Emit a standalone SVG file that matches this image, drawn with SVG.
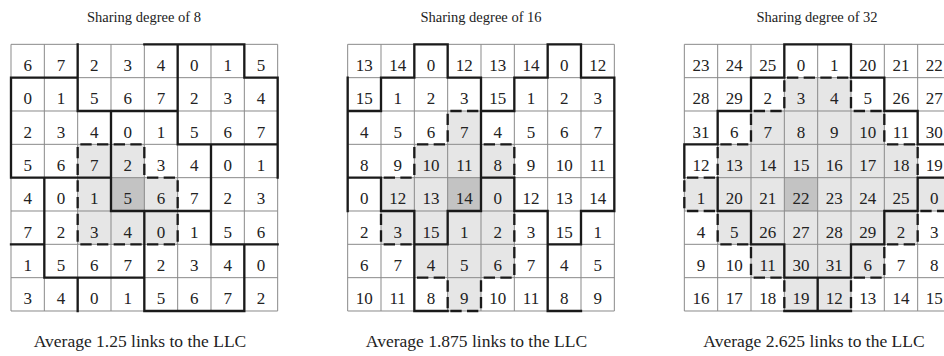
<svg xmlns="http://www.w3.org/2000/svg" xmlns:xlink="http://www.w3.org/1999/xlink" width="944" height="356" viewBox="0 0 944 356">
<style>
.thin{fill:none;stroke:#8a8a8a;stroke-width:3}
.thick{fill:none;stroke:#1a1a1a;stroke-width:7;stroke-linecap:square}
.dash{fill:none;stroke:#1a1a1a;stroke-width:7;stroke-dasharray:34 16;stroke-dashoffset:42}
.lt{fill:#e6e6e6}
.dk{fill:#c3c3c3}
text{font-family:"Liberation Serif","Times New Roman",serif;text-anchor:middle;fill:#222}
.num{font-size:17px}
.title{font-size:14.5px}
.cap{font-size:17.5px}
</style>
<defs>
<path id="gridlines" d="M0 0H800M0 100H800M0 200H800M0 300H800M0 400H800M0 500H800M0 600H800M0 700H800M0 800H800M0 0V800M100 0V800M200 0V800M300 0V800M400 0V800M500 0V800M600 0V800M700 0V800M800 0V800"/>
</defs>
<rect width="944" height="356" fill="#fff"/>
<g id="titles">
<text class="title" x="144" y="22">Sharing degree of 8</text>
<text class="title" x="481" y="22">Sharing degree of 16</text>
<text class="title" x="817" y="22">Sharing degree of 32</text>
</g>
<g id="grid1" transform="translate(11,44.33)">
<g transform="scale(0.33333)">
<rect class="lt" x="200" y="300" width="200" height="100"/>
<rect class="lt" x="200" y="400" width="300" height="200"/>
<rect class="dk" x="300" y="400" width="100" height="100"/>
<use xlink:href="#gridlines" class="thin"/>
<path class="thick" d="M400 0H700M0 100H200M700 100H800M200 200H500M500 300H800M0 400H300M300 500H600M0 600H100M600 600H800M100 700H400M400 800H700M0 100V400M100 400V700M200 0V200M200 700V800M300 200V500M400 500V800M500 0V300M600 300V600M700 0V100M700 600V800M800 100V400"/>
<path class="dash" d="M200 300H300M300 300H400M400 400H500M200 600H300M300 600H400M400 600H500M200 300V400M400 300V400M200 400V500M500 400V500M200 500V600M500 500V600"/>
</g>
<text class="num" y="26.67"><tspan x="16.67">6</tspan><tspan x="50">7</tspan><tspan x="83.33">2</tspan><tspan x="116.67">3</tspan><tspan x="150">4</tspan><tspan x="183.33">0</tspan><tspan x="216.67">1</tspan><tspan x="250">5</tspan></text>
<text class="num" y="60"><tspan x="16.67">0</tspan><tspan x="50">1</tspan><tspan x="83.33">5</tspan><tspan x="116.67">6</tspan><tspan x="150">7</tspan><tspan x="183.33">2</tspan><tspan x="216.67">3</tspan><tspan x="250">4</tspan></text>
<text class="num" y="93.33"><tspan x="16.67">2</tspan><tspan x="50">3</tspan><tspan x="83.33">4</tspan><tspan x="116.67">0</tspan><tspan x="150">1</tspan><tspan x="183.33">5</tspan><tspan x="216.67">6</tspan><tspan x="250">7</tspan></text>
<text class="num" y="126.67"><tspan x="16.67">5</tspan><tspan x="50">6</tspan><tspan x="83.33">7</tspan><tspan x="116.67">2</tspan><tspan x="150">3</tspan><tspan x="183.33">4</tspan><tspan x="216.67">0</tspan><tspan x="250">1</tspan></text>
<text class="num" y="160"><tspan x="16.67">4</tspan><tspan x="50">0</tspan><tspan x="83.33">1</tspan><tspan x="116.67">5</tspan><tspan x="150">6</tspan><tspan x="183.33">7</tspan><tspan x="216.67">2</tspan><tspan x="250">3</tspan></text>
<text class="num" y="193.33"><tspan x="16.67">7</tspan><tspan x="50">2</tspan><tspan x="83.33">3</tspan><tspan x="116.67">4</tspan><tspan x="150">0</tspan><tspan x="183.33">1</tspan><tspan x="216.67">5</tspan><tspan x="250">6</tspan></text>
<text class="num" y="226.67"><tspan x="16.67">1</tspan><tspan x="50">5</tspan><tspan x="83.33">6</tspan><tspan x="116.67">7</tspan><tspan x="150">2</tspan><tspan x="183.33">3</tspan><tspan x="216.67">4</tspan><tspan x="250">0</tspan></text>
<text class="num" y="260"><tspan x="16.67">3</tspan><tspan x="50">4</tspan><tspan x="83.33">0</tspan><tspan x="116.67">1</tspan><tspan x="150">5</tspan><tspan x="183.33">6</tspan><tspan x="216.67">7</tspan><tspan x="250">2</tspan></text>
</g>
<g id="grid2" transform="translate(347.67,44.33)">
<g transform="scale(0.33333)">
<rect class="lt" x="300" y="200" width="100" height="100"/>
<rect class="lt" x="200" y="300" width="300" height="100"/>
<rect class="lt" x="100" y="400" width="400" height="200"/>
<rect class="lt" x="200" y="600" width="300" height="100"/>
<rect class="lt" x="300" y="700" width="100" height="100"/>
<rect class="dk" x="300" y="400" width="100" height="100"/>
<use xlink:href="#gridlines" class="thin"/>
<path class="thick" d="M200 0H300M600 0H700M100 100H200M300 100H400M500 100H600M700 100H800M0 200H100M400 200H500M0 400H100M400 400H500M100 500H200M300 500H400M500 500H600M700 500H800M200 600H300M600 600H700M200 800H300M600 800H700M0 100V500M100 100V200M100 400V500M200 0V100M200 500V800M300 0V100M300 500V600M400 100V500M500 100V200M500 400V500M600 0V100M600 500V800M700 0V100M700 500V600M800 100V500"/>
<path class="dash" d="M300 200H400M200 300H300M400 300H500M100 400H200M100 600H200M200 700H300M400 700H500M300 800H400M300 200V300M200 300V400M100 500V600M300 700V800M500 300V400M500 500V600M500 600V700M400 700V800"/>
</g>
<text class="num" y="26.67"><tspan x="16.67">13</tspan><tspan x="50">14</tspan><tspan x="83.33">0</tspan><tspan x="116.67">12</tspan><tspan x="150">13</tspan><tspan x="183.33">14</tspan><tspan x="216.67">0</tspan><tspan x="250">12</tspan></text>
<text class="num" y="60"><tspan x="16.67">15</tspan><tspan x="50">1</tspan><tspan x="83.33">2</tspan><tspan x="116.67">3</tspan><tspan x="150">15</tspan><tspan x="183.33">1</tspan><tspan x="216.67">2</tspan><tspan x="250">3</tspan></text>
<text class="num" y="93.33"><tspan x="16.67">4</tspan><tspan x="50">5</tspan><tspan x="83.33">6</tspan><tspan x="116.67">7</tspan><tspan x="150">4</tspan><tspan x="183.33">5</tspan><tspan x="216.67">6</tspan><tspan x="250">7</tspan></text>
<text class="num" y="126.67"><tspan x="16.67">8</tspan><tspan x="50">9</tspan><tspan x="83.33">10</tspan><tspan x="116.67">11</tspan><tspan x="150">8</tspan><tspan x="183.33">9</tspan><tspan x="216.67">10</tspan><tspan x="250">11</tspan></text>
<text class="num" y="160"><tspan x="16.67">0</tspan><tspan x="50">12</tspan><tspan x="83.33">13</tspan><tspan x="116.67">14</tspan><tspan x="150">0</tspan><tspan x="183.33">12</tspan><tspan x="216.67">13</tspan><tspan x="250">14</tspan></text>
<text class="num" y="193.33"><tspan x="16.67">2</tspan><tspan x="50">3</tspan><tspan x="83.33">15</tspan><tspan x="116.67">1</tspan><tspan x="150">2</tspan><tspan x="183.33">3</tspan><tspan x="216.67">15</tspan><tspan x="250">1</tspan></text>
<text class="num" y="226.67"><tspan x="16.67">6</tspan><tspan x="50">7</tspan><tspan x="83.33">4</tspan><tspan x="116.67">5</tspan><tspan x="150">6</tspan><tspan x="183.33">7</tspan><tspan x="216.67">4</tspan><tspan x="250">5</tspan></text>
<text class="num" y="260"><tspan x="16.67">10</tspan><tspan x="50">11</tspan><tspan x="83.33">8</tspan><tspan x="116.67">9</tspan><tspan x="150">10</tspan><tspan x="183.33">11</tspan><tspan x="216.67">8</tspan><tspan x="250">9</tspan></text>
</g>
<g id="grid3" transform="translate(684.33,44.33)">
<g transform="scale(0.33333)">
<rect class="lt" x="300" y="100" width="200" height="100"/>
<rect class="lt" x="200" y="200" width="400" height="100"/>
<rect class="lt" x="100" y="300" width="600" height="100"/>
<rect class="lt" x="0" y="400" width="800" height="100"/>
<rect class="lt" x="100" y="500" width="600" height="100"/>
<rect class="lt" x="200" y="600" width="400" height="100"/>
<rect class="lt" x="300" y="700" width="200" height="100"/>
<rect class="dk" x="300" y="400" width="100" height="100"/>
<use xlink:href="#gridlines" class="thin"/>
<path class="thick" d="M300 0H500M200 100H300M500 100H600M100 200H200M600 200H700M0 300H100M700 300H800M700 400H800M100 500H200M600 500H700M200 600H300M500 600H600M300 700H500M300 800H500M0 300V400M100 200V300M100 400V500M200 100V200M200 500V600M300 0V100M300 600V700M400 700V800M500 0V100M500 600V700M600 100V200M600 500V600M700 200V300M700 400V500M800 300V400"/>
<path class="dash" d="M300 100H400M400 100H500M200 200H300M500 200H600M100 300H200M600 300H700M0 400H100M0 500H100M700 500H800M100 600H200M600 600H700M200 700H300M500 700H600M300 100V200M500 100V200M200 200V300M600 200V300M100 300V400M700 300V400M0 400V500M800 400V500M100 500V600M700 500V600M200 600V700M600 600V700M300 700V800M500 700V800"/>
</g>
<text class="num" y="26.67"><tspan x="16.67">23</tspan><tspan x="50">24</tspan><tspan x="83.33">25</tspan><tspan x="116.67">0</tspan><tspan x="150">1</tspan><tspan x="183.33">20</tspan><tspan x="216.67">21</tspan><tspan x="250">22</tspan></text>
<text class="num" y="60"><tspan x="16.67">28</tspan><tspan x="50">29</tspan><tspan x="83.33">2</tspan><tspan x="116.67">3</tspan><tspan x="150">4</tspan><tspan x="183.33">5</tspan><tspan x="216.67">26</tspan><tspan x="250">27</tspan></text>
<text class="num" y="93.33"><tspan x="16.67">31</tspan><tspan x="50">6</tspan><tspan x="83.33">7</tspan><tspan x="116.67">8</tspan><tspan x="150">9</tspan><tspan x="183.33">10</tspan><tspan x="216.67">11</tspan><tspan x="250">30</tspan></text>
<text class="num" y="126.67"><tspan x="16.67">12</tspan><tspan x="50">13</tspan><tspan x="83.33">14</tspan><tspan x="116.67">15</tspan><tspan x="150">16</tspan><tspan x="183.33">17</tspan><tspan x="216.67">18</tspan><tspan x="250">19</tspan></text>
<text class="num" y="160"><tspan x="16.67">1</tspan><tspan x="50">20</tspan><tspan x="83.33">21</tspan><tspan x="116.67">22</tspan><tspan x="150">23</tspan><tspan x="183.33">24</tspan><tspan x="216.67">25</tspan><tspan x="250">0</tspan></text>
<text class="num" y="193.33"><tspan x="16.67">4</tspan><tspan x="50">5</tspan><tspan x="83.33">26</tspan><tspan x="116.67">27</tspan><tspan x="150">28</tspan><tspan x="183.33">29</tspan><tspan x="216.67">2</tspan><tspan x="250">3</tspan></text>
<text class="num" y="226.67"><tspan x="16.67">9</tspan><tspan x="50">10</tspan><tspan x="83.33">11</tspan><tspan x="116.67">30</tspan><tspan x="150">31</tspan><tspan x="183.33">6</tspan><tspan x="216.67">7</tspan><tspan x="250">8</tspan></text>
<text class="num" y="260"><tspan x="16.67">16</tspan><tspan x="50">17</tspan><tspan x="83.33">18</tspan><tspan x="116.67">19</tspan><tspan x="150">12</tspan><tspan x="183.33">13</tspan><tspan x="216.67">14</tspan><tspan x="250">15</tspan></text>
</g>
<g id="captions">
<text class="cap" x="140" y="347">Average 1.25 links to the LLC</text>
<text class="cap" x="476.5" y="347">Average 1.875 links to the LLC</text>
<text class="cap" x="814" y="347">Average 2.625 links to the LLC</text>
</g>
</svg>
